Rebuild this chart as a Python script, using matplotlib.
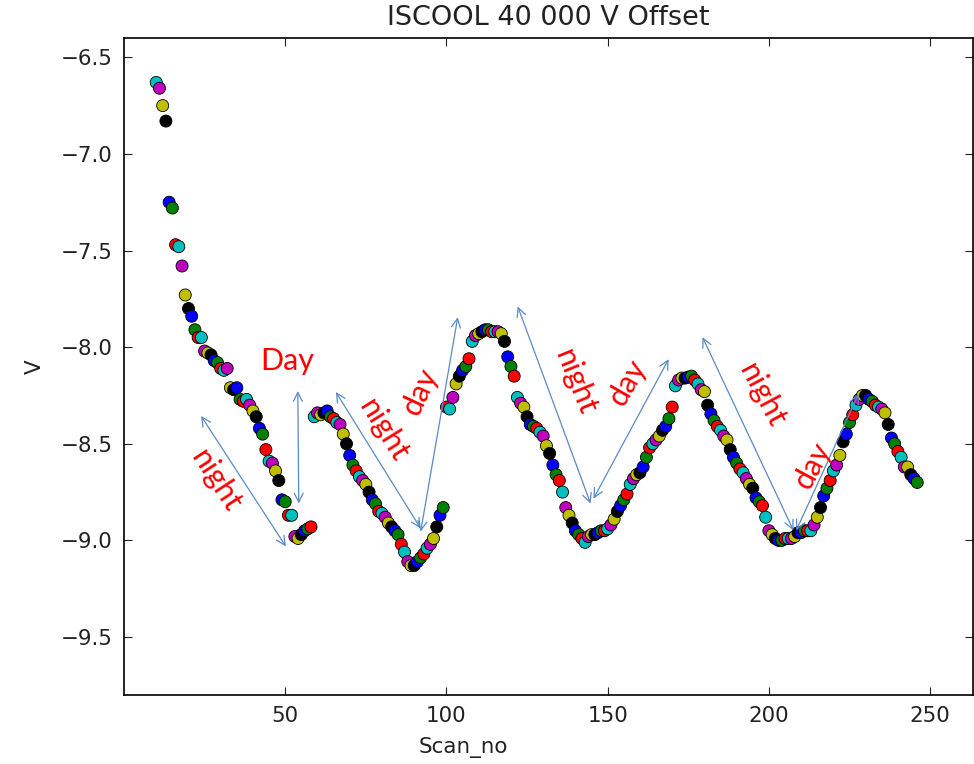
import matplotlib
matplotlib.use('Agg')
import matplotlib.pyplot as plt

# scan numbers and measured offset voltage
scan_no = list(range(10, 247))
volts = [
    -6.63, -6.66, -6.75, -6.83, -7.25, -7.28, -7.47, -7.48, -7.58, -7.73,
    -7.80, -7.84, -7.91, -7.95, -7.95, -8.02, -8.03, -8.04, -8.07, -8.08,
    -8.11, -8.12, -8.11, -8.21, -8.22, -8.21, -8.27, -8.28, -8.27, -8.30,
    -8.33, -8.36, -8.42, -8.45, -8.53, -8.59, -8.60, -8.64, -8.69, -8.79,
    -8.80, -8.87, -8.87, -8.98, -8.99, -8.97, -8.95, -8.94, -8.93, -8.36,
    -8.34, -8.35, -8.34, -8.33, -8.36, -8.37, -8.39, -8.40, -8.45, -8.50,
    -8.56, -8.61, -8.64, -8.67, -8.69, -8.71, -8.75, -8.79, -8.81, -8.85,
    -8.86, -8.88, -8.91, -8.93, -8.95, -8.97, -9.02, -9.06, -9.11, -9.13,
    -9.13, -9.11, -9.09, -9.07, -9.04, -9.02, -8.99, -8.93, -8.87, -8.83,
    -8.31, -8.32, -8.26, -8.19, -8.15, -8.12, -8.10, -8.06, -7.97, -7.94,
    -7.93, -7.92, -7.91, -7.91, -7.92, -7.92, -7.92, -7.93, -7.97, -8.05,
    -8.10, -8.15, -8.26, -8.29, -8.31, -8.36, -8.40, -8.41, -8.42, -8.44,
    -8.46, -8.51, -8.55, -8.61, -8.66, -8.69, -8.75, -8.83, -8.87, -8.91,
    -8.95, -8.97, -8.99, -9.01, -8.98, -8.97, -8.97, -8.96, -8.95, -8.95,
    -8.94, -8.92, -8.89, -8.85, -8.82, -8.79, -8.76, -8.71, -8.68, -8.66,
    -8.65, -8.62, -8.57, -8.52, -8.50, -8.48, -8.46, -8.43, -8.41, -8.37,
    -8.31, -8.20, -8.17, -8.16, -8.16, -8.155, -8.15, -8.17, -8.19, -8.22,
    -8.23, -8.30, -8.345, -8.38, -8.41, -8.43, -8.46, -8.48, -8.53, -8.57,
    -8.60, -8.63, -8.65, -8.68, -8.71, -8.73, -8.78, -8.80, -8.82, -8.88,
    -8.95, -8.97, -8.99, -9.00, -9.00, -8.99, -8.99, -8.99, -8.98, -8.96,
    -8.96, -8.95, -8.95, -8.95, -8.92, -8.88, -8.83, -8.77, -8.73, -8.69,
    -8.64, -8.61, -8.56, -8.49, -8.45, -8.39, -8.35, -8.30, -8.27, -8.25,
    -8.25, -8.27, -8.28, -8.30, -8.31, -8.32, -8.34, -8.40, -8.47, -8.50,
    -8.54, -8.57, -8.62, -8.62, -8.66, -8.68, -8.70,
]

# old-style colour cycle b g r c m y k
cycle = [(0, 0, 1), (0, 0.5, 0), (1, 0, 0), (0, 0.75, 0.75),
         (0.75, 0, 0.75), (0.75, 0.75, 0), (0, 0, 0)]
colors = [cycle[s % 7] for s in scan_no]

# hand-drawn day/night arrows (start, end) and their labels
arrows = [((23.9, -8.356), (50.2, -9.031)),
          ((53.9, -8.227), (54.2, -8.809)),
          ((65.7, -8.232), (92.0, -8.938)),
          ((92.0, -8.954), (103.5, -7.845)),
          ((122.1, -7.789), (144.7, -8.809)),
          ((145.6, -8.784), (168.9, -8.062)),
          ((179.4, -7.948), (207.6, -8.948)),
          ((208.5, -8.948), (227.8, -8.242))]
labels = ['night', 'Day', 'night', 'day', 'night', 'day', 'night', 'day']
label_pos = [(28.5, -8.69), (50.5, -8.07), (80.6, -8.43), (92.0, -8.23),
             (140.0, -8.18), (156.2, -8.18), (198.0, -8.25), (213.5, -8.61)]
label_rot = [-57, 0, -58, 65, -68, 60, -62, 62]

fig = plt.figure(figsize=(9.74, 7.64), dpi=100)
ax = fig.add_axes([0.1273, 0.0903, 0.8717, 0.86])

ax.scatter(scan_no, volts, s=75, c=colors, edgecolors='black',
           linewidths=0.6, zorder=3)

for (start, end) in arrows:
    ax.annotate('', xy=end, xytext=start,
                arrowprops=dict(arrowstyle='<->', color='#5a8ac6', lw=0.9,
                                mutation_scale=16, shrinkA=0, shrinkB=0),
                zorder=4)

for txt, pos, rot in zip(labels, label_pos, label_rot):
    ax.text(pos[0], pos[1], txt, color='red', fontsize=22, family='Lato',
            rotation=rot, ha='center', va='center', rotation_mode='anchor',
            zorder=5)

ax.set_xlim(0, 263.3)
ax.set_ylim(-9.8, -6.4)
ax.set_xticks([50, 100, 150, 200, 250])
ax.set_yticks([-9.5, -9.0, -8.5, -8.0, -7.5, -7.0, -6.5])
ax.tick_params(direction='in', top=True, right=True, length=6, width=0.8,
               labelsize=15.4, pad=8, colors='#222222')
for sp in ax.spines.values():
    sp.set_linewidth(1.2)

ax.set_title('ISCOOL 40 000 V Offset', fontsize=19.5, pad=9, color='#222222')
ax.set_xlabel('Scan_no', fontsize=15.4, color='#222222')
ax.set_ylabel('V', fontsize=15.4, color='#222222')
ax.xaxis.set_label_coords(0.40, -0.064)
ax.yaxis.set_label_coords(-0.093, 0.5)

fig.savefig('out.png', dpi=100, facecolor='white')
